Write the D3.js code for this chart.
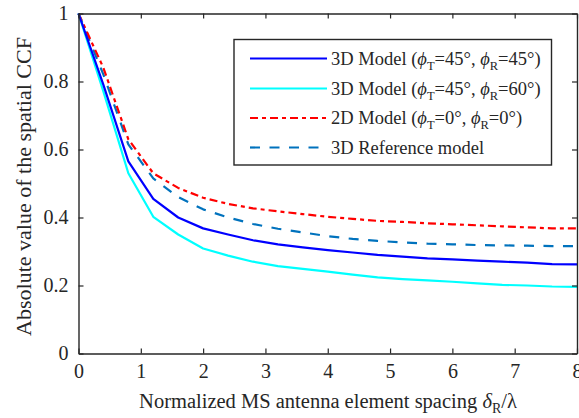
<!DOCTYPE html>
<html>
<head>
<meta charset="utf-8">
<script src="https://cdn.jsdelivr.net/npm/d3@7"></script>
<style>
  html, body { margin: 0; padding: 0; background: #fff; }
  svg { display: block; }
  text { font-family: "Liberation Serif", "Times New Roman", serif; fill: #262626; }
</style>
</head>
<body>
<svg id="chart" width="579" height="418"></svg>
<script>
// Normalized antenna element spacing (delta_R / lambda)
const spacing = [0, 0.4, 0.8, 1.2, 1.6, 2.0, 2.4, 2.8, 3.2, 3.6, 4.0, 4.4, 4.8, 5.2, 5.6, 6.0, 6.4, 6.8, 7.2, 7.6, 8.0];

// |CCF| for each model
const model3d_45_45 = [1.0, 0.79, 0.565, 0.455, 0.400, 0.368, 0.350, 0.333, 0.321, 0.312, 0.304, 0.297, 0.290, 0.285, 0.280, 0.277, 0.273, 0.270, 0.267, 0.263, 0.262];
const model3d_45_60 = [1.0, 0.77, 0.530, 0.402, 0.350, 0.309, 0.288, 0.270, 0.257, 0.249, 0.241, 0.232, 0.224, 0.219, 0.215, 0.211, 0.206, 0.202, 0.200, 0.197, 0.196];
const model2d_0_0   = [1.0, 0.84, 0.630, 0.530, 0.487, 0.458, 0.440, 0.427, 0.418, 0.410, 0.402, 0.396, 0.390, 0.387, 0.383, 0.380, 0.377, 0.374, 0.371, 0.368, 0.368];
const reference3d   = [1.0, 0.82, 0.615, 0.515, 0.460, 0.424, 0.400, 0.381, 0.367, 0.356, 0.345, 0.337, 0.331, 0.327, 0.323, 0.321, 0.319, 0.318, 0.317, 0.316, 0.316];

const xTicks = [0, 1, 2, 3, 4, 5, 6, 7, 8];
const yTicks = [0, 0.2, 0.4, 0.6, 0.8, 1];

const seriesList = [
  { values: model3d_45_45, color: "#0000ff", dash: null,        label: ["3D Model (", "T", "=45°, ", "R", "=45°)"] },
  { values: model3d_45_60, color: "#00ffff", dash: null,        label: ["3D Model (", "T", "=45°, ", "R", "=60°)"] },
  { values: model2d_0_0,   color: "#ff0000", dash: "8,4,4,4",   label: ["2D Model (", "T", "=0°, ",  "R", "=0°)"] },
  { values: reference3d,   color: "#0072bd", dash: "10,9.5",    label: ["3D Reference model"] }
];

const svg = d3.select("#chart");
const plotLeft = 78.5, plotRight = 577, plotTop = 13.5, plotBottom = 353.5;

const x = d3.scaleLinear().domain([0, 8]).range([plotLeft, plotRight]);
const y = d3.scaleLinear().domain([0, 1]).range([plotBottom, plotTop]);

// Curves
const line = d3.line().x((d, i) => x(spacing[i])).y(d => y(d));
const plot = svg.append("g");
[3, 2, 1, 0].forEach(k => {
  const s = seriesList[k];
  plot.append("path")
    .datum(s.values)
    .attr("d", line)
    .attr("fill", "none")
    .attr("stroke", s.color)
    .attr("stroke-width", 2.2)
    .attr("stroke-dasharray", s.dash)
    .attr("stroke-linejoin", "round");
});

// Axes (box with inward ticks)
const axisColor = "#262626";
const tickFont = 20;
const xAxis = d3.axisBottom(x).tickValues(xTicks).tickFormat(d3.format("d")).tickSizeInner(-5).tickSizeOuter(0).tickPadding(10);
const yAxis = d3.axisLeft(y).tickValues(yTicks).tickFormat(d => d === 0 || d === 1 ? d3.format("d")(d) : d3.format(".1f")(d)).tickSizeInner(-5).tickSizeOuter(0).tickPadding(10);
const xTop = d3.axisTop(x).tickValues(xTicks).tickFormat("").tickSizeInner(-5).tickSizeOuter(0);
const yRight = d3.axisRight(y).tickValues(yTicks).tickFormat("").tickSizeInner(-5).tickSizeOuter(0);

function styleAxis(g) {
  g.selectAll("path.domain").attr("stroke", axisColor).attr("stroke-width", 1.4);
  g.selectAll(".tick line").attr("stroke", axisColor).attr("stroke-width", 1.2);
  g.selectAll(".tick text").attr("font-family", "Liberation Serif").attr("font-size", tickFont).attr("fill", axisColor);
}
svg.append("g").attr("transform", `translate(0,${plotBottom})`).call(xAxis).call(styleAxis);
svg.append("g").attr("transform", `translate(${plotLeft},0)`).call(yAxis).call(styleAxis);
svg.append("g").attr("transform", `translate(0,${plotTop})`).call(xTop).call(styleAxis);
svg.append("g").attr("transform", `translate(${plotRight},0)`).call(yRight).call(styleAxis);

// Axis titles
const xt = svg.append("text")
  .attr("x", 328).attr("y", 408)
  .attr("text-anchor", "middle").attr("font-size", 20.5);
xt.append("tspan").text("Normalized MS antenna element spacing ");
xt.append("tspan").attr("font-style", "italic").text("δ");
xt.append("tspan").attr("font-size", 14).attr("dy", 5).text("R");
xt.append("tspan").attr("dy", -5).text("/λ");

svg.append("text")
  .attr("transform", `translate(31,186.5) rotate(-90)`)
  .attr("text-anchor", "middle").attr("font-size", 22)
  .text("Absolute value of the spatial CCF");

// Legend
const lg = svg.append("g");
lg.append("rect")
  .attr("x", 234).attr("y", 39.5).attr("width", 317.5).attr("height", 125.5)
  .attr("fill", "#fff").attr("stroke", axisColor).attr("stroke-width", 1.4);

const rowY = [58.5, 88.5, 118, 147.5];
seriesList.forEach((s, i) => {
  lg.append("line")
    .attr("x1", 250).attr("x2", 327).attr("y1", rowY[i]).attr("y2", rowY[i])
    .attr("stroke", s.color).attr("stroke-width", 2.2)
    .attr("stroke-dasharray", s.dash);
  const t = lg.append("text").attr("x", 331).attr("y", rowY[i] + 6).attr("font-size", 18.5);
  if (s.label.length === 1) {
    t.text(s.label[0]);
  } else {
    t.append("tspan").text(s.label[0]);
    t.append("tspan").attr("font-style", "italic").text("ϕ");
    t.append("tspan").attr("font-size", 12.5).attr("dy", 5).text(s.label[1]);
    t.append("tspan").attr("dy", -5).text(s.label[2]);
    t.append("tspan").attr("font-style", "italic").text("ϕ");
    t.append("tspan").attr("font-size", 12.5).attr("dy", 5).text(s.label[3]);
    t.append("tspan").attr("dy", -5).text(s.label[4]);
  }
});
</script>
</body>
</html>
